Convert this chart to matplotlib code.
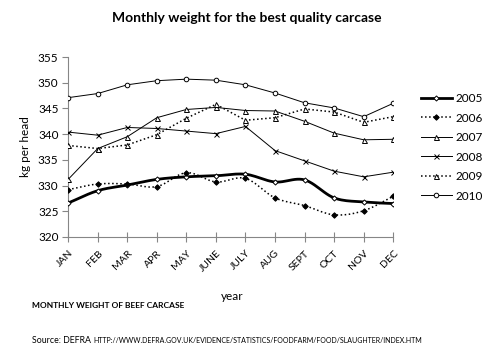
import numpy as np
import matplotlib
matplotlib.use("Agg")
import matplotlib.pyplot as plt
from matplotlib import rcParams

rcParams["font.family"] = ["Lato", "DejaVu Sans"]

# ------------------------------------------------------------
# Datos (kg por cabeza)
# ------------------------------------------------------------
months = ["JAN", "FEB", "MAR", "APR", "MAY", "JUNE", "JULY", "AUG", "SEPT", "OCT", "NOV", "DEC"]
w2005 = [326.6, 329.0, 330.1, 331.2, 331.7, 331.9, 332.2, 330.7, 331.1, 327.6, 326.8, 326.5]
w2006 = [329.2, 330.3, 330.3, 329.8, 332.5, 330.7, 331.4, 327.6, 326.1, 324.3, 325.1, 327.9]
w2007 = [331.2, 337.2, 339.5, 343.2, 344.8, 345.2, 344.6, 344.5, 342.5, 340.2, 338.9, 339.0]
w2008 = [340.4, 339.8, 341.3, 341.1, 340.6, 340.1, 341.5, 336.8, 334.8, 332.8, 331.7, 332.6]
w2009 = [337.8, 337.2, 337.9, 339.9, 343.1, 345.8, 342.7, 343.2, 344.9, 344.3, 342.3, 343.4]
w2010 = [347.1, 347.9, 349.6, 350.4, 350.7, 350.5, 349.6, 348.0, 346.1, 345.1, 343.4, 346.0]
yticks = [320, 325, 330, 335, 340, 345, 350, 355]

C_AX = "#868686"


def smooth(x, y, n=12):
    # curva suavizada tipo Excel (Catmull-Rom) solo para dibujar
    x = np.asarray(x, float); y = np.asarray(y, float)
    px = np.concatenate([[2 * x[0] - x[1]], x, [2 * x[-1] - x[-2]]])
    py = np.concatenate([[2 * y[0] - y[1]], y, [2 * y[-1] - y[-2]]])
    xs, ys = [], []
    t = np.linspace(0, 1, n, endpoint=False)
    for i in range(1, len(px) - 2):
        for p, out in ((px, xs), (py, ys)):
            p0, p1, p2, p3 = p[i - 1], p[i], p[i + 1], p[i + 2]
            out.extend(0.5 * (2 * p1 + (-p0 + p2) * t + (2 * p0 - 5 * p1 + 4 * p2 - p3) * t**2
                              + (-p0 + 3 * p1 - 3 * p2 + p3) * t**3))
    xs.append(x[-1]); ys.append(y[-1])
    return xs, ys


fig = plt.figure(figsize=(4.94, 3.5), dpi=100)
ax = fig.add_axes([0.138, 0.323, 0.658, 0.514])
x = np.arange(len(months))

series = [
    ("2005", w2005, "-", 2.0, "D", "white", 2.6, True),
    ("2006", w2006, ":", 1.1, "D", "black", 2.8, True),
    ("2007", w2007, "-", 0.7, "^", "white", 3.6, False),
    ("2008", w2008, "-", 0.7, "x", "black", 3.6, False),
    ("2009", w2009, ":", 1.1, "^", "white", 3.6, False),
    ("2010", w2010, "-", 0.7, "o", "white", 3.3, False),
]
for label, vals, ls, lw, mk, fc, ms, sm in series:
    if sm:
        xs, ys = smooth(x, vals)
    else:
        xs, ys = x, vals
    ax.plot(xs, ys, color="black", ls=ls, lw=lw, zorder=2)
    ax.plot(x, vals, ls="none", marker=mk, markersize=ms, markerfacecolor=fc,
            markeredgecolor="black", markeredgewidth=0.7, zorder=3)
    ax.plot([], [], color="black", ls=ls, lw=lw, marker=mk, markersize=ms,
            markerfacecolor=fc, markeredgecolor="black", markeredgewidth=0.7, label=label)

ax.set_xlim(0, len(months) - 1)
ax.set_ylim(320, 355)
ax.set_yticks(yticks)
ax.set_xticks(x)
ax.set_xticklabels(months, rotation=45, ha="right", va="top", rotation_mode="anchor", fontsize=7.5)
ax.tick_params(axis="x", direction="inout", length=7, color=C_AX, pad=5)
ax.tick_params(axis="y", direction="out", length=4, color=C_AX, labelsize=8.5, pad=3)
for s in ("top", "right"):
    ax.spines[s].set_visible(False)
for s in ("left", "bottom"):
    ax.spines[s].set_color(C_AX); ax.spines[s].set_linewidth(0.8)

ax.set_ylabel("kg per head", fontsize=8.5, labelpad=5)
ax.legend(loc="upper left", bbox_to_anchor=(1.085, 0.80), frameon=False, fontsize=8.5,
          handlelength=2.6, handletextpad=0.3, labelspacing=0.72, borderaxespad=0,
          borderpad=0)

fig.text(0.5, 0.948, "Monthly weight for the best quality carcase", ha="center", va="center",
         fontsize=10, weight="bold")
fig.text(0.47, 0.152, "year", ha="center", va="center", fontsize=8.5)
fig.text(0.065, 0.128, "MONTHLY WEIGHT OF BEEF CARCASE", ha="left", va="center",
         fontsize=6.0, weight="bold")
t1 = fig.text(0.065, 0.026, "Source: DEFRA ", ha="left", va="center", fontsize=6.3)
fig.canvas.draw()
bb = t1.get_window_extent()
fig.text(bb.x1 / fig.bbox.width, 0.026,
         "HTTP://WWW.DEFRA.GOV.UK/EVIDENCE/STATISTICS/FOODFARM/FOOD/SLAUGHTER/INDEX.HTM",
         ha="left", va="center", fontsize=5.05)

fig.savefig("out.png", dpi=100)
